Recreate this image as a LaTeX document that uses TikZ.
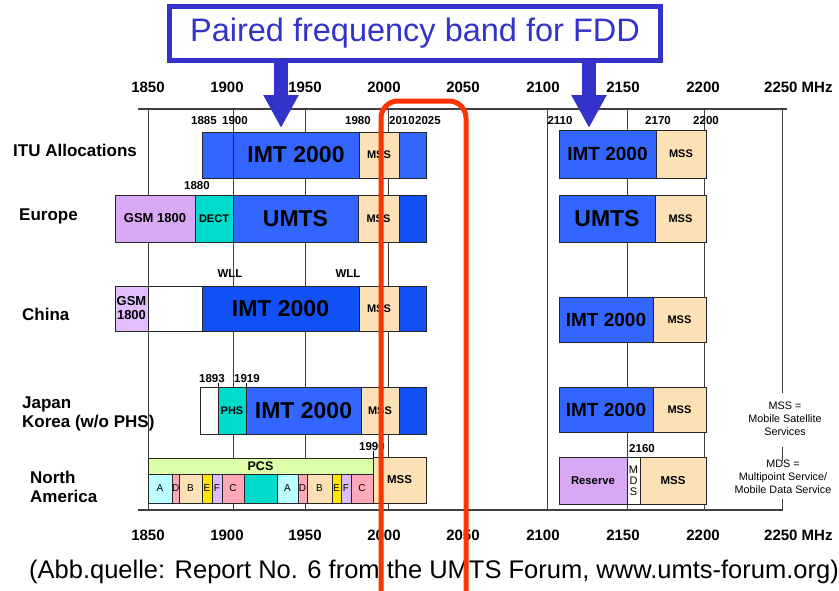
\documentclass[tikz,border=0pt]{standalone}
\usepackage{fontspec}
\setmainfont{Liberation Sans}
\usetikzlibrary{arrows.meta}

\definecolor{imtblue}{HTML}{3366FF}
\definecolor{deepblue}{HTML}{1050F5}
\definecolor{mssbeige}{HTML}{FCE0B6}
\definecolor{gsmlilac}{HTML}{D8A8F5}
\definecolor{gsmlight}{HTML}{E2BEFF}
\definecolor{dectteal}{HTML}{00DCCB}
\definecolor{pcsgreen}{HTML}{DDFFAA}
\definecolor{bandcyan}{HTML}{BBFFFF}
\definecolor{bandpink}{HTML}{FFA8B8}
\definecolor{bandyellow}{HTML}{FFE800}
\definecolor{bandlilac}{HTML}{DDBBFF}
\definecolor{titleblue}{HTML}{3333CC}
\definecolor{fddred}{HTML}{FF3300}

\newcommand\fs[1]{\fontsize{#1}{#1}\selectfont}

\tikzset{
  cell/.style={draw=black!85, line width=0.7pt, inner sep=0pt, outer sep=0pt,
    anchor=north west, align=center, font=\bfseries\fs{11}},
  subcell/.style={cell, font=\fs{10}},
  bigtext/.style={font=\bfseries\fs{23}},
  midtext/.style={font=\bfseries\fs{19}},
  ticklabel/.style={font=\bfseries\fs{11.5}, inner sep=0pt},
  scalelabel/.style={font=\bfseries\fs{15}, inner sep=0pt},
  rowlabel/.style={font=\bfseries\fontsize{17}{19}\selectfont, anchor=west, inner sep=0pt, align=left},
  legendtext/.style={font=\fontsize{10.8}{13}\selectfont, align=center, inner sep=0pt},
  gridrule/.style={draw=black!75, line width=0.8pt},
  axisrule/.style={draw=black!75, line width=1.1pt},
  tickrule/.style={draw=black, line width=0.8pt},
  titlebox/.style={draw=titleblue, line width=5pt, fill=white, text=titleblue,
    minimum width=491pt, minimum height=54pt, inner sep=0pt, font=\fs{32.5}},
  fddarrow/.style={draw=titleblue, line width=14pt, -{Triangle[length=33pt,width=33pt]}},
  fddframe/.style={draw=fddred, line width=5pt, rounded corners=17pt},
}

% [options]{name}{x left}{x right}{y top}{y bottom}{fill}{text}
\newcommand\cellbox[8][]{%
  \node[cell, fill=#7, minimum width=#4pt-#3pt, minimum height=#6pt-#5pt, #1] (#2) at (#3,#5) {#8};}

\begin{document}
\begin{tikzpicture}[x=1pt,y=-1pt]
\useasboundingbox (0,0) rectangle (839,590);
\fill[white] (0,0) rectangle (839,590);

% frequency grid
\foreach \gx in {148,233,305,388,547,627,704}
  \draw[gridrule] (\gx,109) -- (\gx,510);
\draw[gridrule] (782,109) -- (782,393) (782,447) -- (782,461) (782,499) -- (782,510);
\draw[axisrule] (138,109) -- (787,109);
\draw[axisrule] (138,510) -- (783,510);

% frequency scale, top and bottom
\foreach \f/\px in {1850/148,1900/227,1950/305,2000/384,2050/463,2100/543,2150/623,2200/703} {
  \node[scalelabel] (top\f) at (\px,87) {\f};
  \node[scalelabel] (bot\f) at (\px,535) {\f};
}
\node[scalelabel, anchor=west] (top2250) at (764,87) {2250 MHz};
\node[scalelabel, anchor=west] (bot2250) at (764,535) {2250 MHz};

% row titles
\node[rowlabel] (lITU) at (13,150) {ITU Allocations};
\node[rowlabel] (lEU) at (19,216) {Europe};
\node[rowlabel] (lCN) at (22,314) {China};
\node[rowlabel] (lJP) at (22,414) {Japan\\Korea (w/o PHS)};
\node[rowlabel] (lNA) at (30,487) {North\\America};

% ITU allocations
\cellbox{itu1}{202}{233}{132}{178}{imtblue}{}
\cellbox[bigtext]{itu2}{233}{359}{132}{178}{imtblue}{IMT 2000}
\cellbox{itu3}{359}{399}{132}{178}{mssbeige}{MSS}
\cellbox{itu4}{399}{426}{132}{178}{imtblue}{}
\cellbox[midtext]{itu5}{559}{656}{130}{178}{imtblue}{IMT 2000}
\cellbox{itu6}{656}{706}{130}{178}{mssbeige}{MSS}
\node[ticklabel] (f1885) at (204,121) {1885};
\node[ticklabel] (f1900) at (235,121) {1900};
\node[ticklabel] (f1980) at (358,121) {1980};
\node[ticklabel] (f2010) at (402,121) {2010};
\node[ticklabel] (f2025) at (428,121) {2025};
\node[ticklabel] (f2110) at (560,121) {2110};
\node[ticklabel] (f2170) at (658,121) {2170};
\node[ticklabel] (f2200) at (706,121) {2200};

% Europe
\node[ticklabel] (f1880) at (197,186) {1880};
\cellbox[font=\bfseries\fs{13}]{eu1}{115}{195}{195}{242}{gsmlilac}{GSM 1800}
\cellbox{eu2}{195}{233}{195}{242}{dectteal}{DECT}
\cellbox[bigtext]{eu3}{233}{358}{195}{242}{imtblue}{UMTS}
\cellbox{eu4}{358}{399}{195}{242}{mssbeige}{MSS}
\cellbox{eu5}{399}{426}{195}{242}{deepblue}{}
\cellbox[bigtext]{eu6}{559}{655}{195}{242}{imtblue}{UMTS}
\cellbox{eu7}{655}{706}{195}{242}{mssbeige}{MSS}

% China
\node[ticklabel] (wll1) at (230,274) {WLL};
\node[ticklabel] (wll2) at (348,274) {WLL};
\cellbox[font=\bfseries\fontsize{13}{14}\selectfont]{cn1}{115}{148}{286}{331}{gsmlight}{GSM\\1800}
\cellbox{cn2}{148}{202}{286}{331}{white}{}
\cellbox[bigtext]{cn3}{202}{359}{286}{331}{deepblue}{IMT 2000}
\cellbox{cn4}{359}{399}{286}{331}{mssbeige}{MSS}
\cellbox{cn5}{399}{426}{286}{331}{deepblue}{}
\cellbox[midtext]{cn6}{559}{653}{297}{342}{imtblue}{IMT 2000}
\cellbox{cn7}{653}{706}{297}{342}{mssbeige}{MSS}

% Japan / Korea
\cellbox{jp1}{200}{218}{387}{434}{white}{}
\cellbox{jp2}{218}{246}{387}{434}{dectteal}{PHS}
\cellbox[bigtext]{jp3}{246}{361}{387}{434}{imtblue}{IMT 2000}
\cellbox{jp4}{361}{399}{387}{434}{mssbeige}{MSS}
\cellbox{jp5}{399}{426}{387}{434}{deepblue}{}
\cellbox[midtext]{jp6}{559}{653}{387}{432}{imtblue}{IMT 2000}
\cellbox{jp7}{653}{706}{387}{432}{mssbeige}{MSS}
\node[ticklabel] (f1893) at (212,379) {1893};
\node[ticklabel] (f1919) at (247,379) {1919};
\draw[tickrule] (jp2.north west) -- ++(0,-4);
\draw[tickrule] (jp3.north west) -- ++(0,-4);

% North America
\cellbox[font=\bfseries\fs{12.5}]{pcs}{148}{373}{458}{474}{pcsgreen}{PCS}
\cellbox[subcell]{na1}{148}{172}{474}{503}{bandcyan}{A}
\cellbox[subcell]{na2}{172}{179}{474}{503}{bandpink}{D}
\cellbox[subcell]{na3}{179}{202}{474}{503}{mssbeige}{B}
\cellbox[subcell]{na4}{202}{212}{474}{503}{bandyellow}{E}
\cellbox[subcell]{na5}{212}{222}{474}{503}{bandlilac}{F}
\cellbox[subcell]{na6}{222}{244}{474}{503}{bandpink}{C}
\cellbox[subcell]{na7}{244}{277}{474}{503}{dectteal}{}
\cellbox[subcell]{na8}{277}{298}{474}{503}{bandcyan}{A}
\cellbox[subcell]{na9}{298}{307}{474}{503}{bandpink}{D}
\cellbox[subcell]{na10}{307}{332}{474}{503}{mssbeige}{B}
\cellbox[subcell]{na11}{332}{341}{474}{503}{bandyellow}{E}
\cellbox[subcell]{na12}{341}{351}{474}{503}{bandlilac}{F}
\cellbox[subcell]{na13}{351}{373}{474}{503}{bandpink}{C}
\cellbox[font=\bfseries\fs{11.5}]{nam}{373}{426}{457}{503}{mssbeige}{MSS}
\node[ticklabel] (f1990) at (372,447) {1990};
\draw[tickrule] (nam.north west) -- ++(0,-6);
\cellbox[font=\bfseries\fs{11.3}]{res}{559}{627}{457}{504}{gsmlilac}{Reserve}
\cellbox[font=\fontsize{11}{11}\selectfont]{mds}{627}{640}{457}{504}{white}{M\\D\\S}
\cellbox[font=\bfseries\fs{11.5}]{nmss}{640}{706}{457}{504}{mssbeige}{MSS}
\node[ticklabel] (f2160) at (642,449) {2160};

% abbreviations
\node[legendtext] (mssnote) at (785,419) {MSS =\\Mobile Satellite\\Services};
\node[legendtext] (mdsnote) at (783,477) {MDS =\\Multipoint Service/\\Mobile Data Service};

% paired band callout
\node[titlebox] (title) at (415,33.5) {Paired frequency band for FDD};
\coordinate (tipL) at (281,128);
\coordinate (tipR) at (589,128);
\draw[fddarrow] (title.south -| tipL) -- (tipL);
\draw[fddarrow] (title.south -| tipR) -- (tipR);

% source line
\node[font=\fs{25.5}, inner sep=0pt] (source) at (434,572)
  {(Abb.quelle: Report No. 6 from the UMTS Forum, www.umts-forum.org)};

% unpaired band frame
\draw[fddframe] (381,600) -- (381,101) -- (466,101) -- (466,600);
\end{tikzpicture}
\end{document}
